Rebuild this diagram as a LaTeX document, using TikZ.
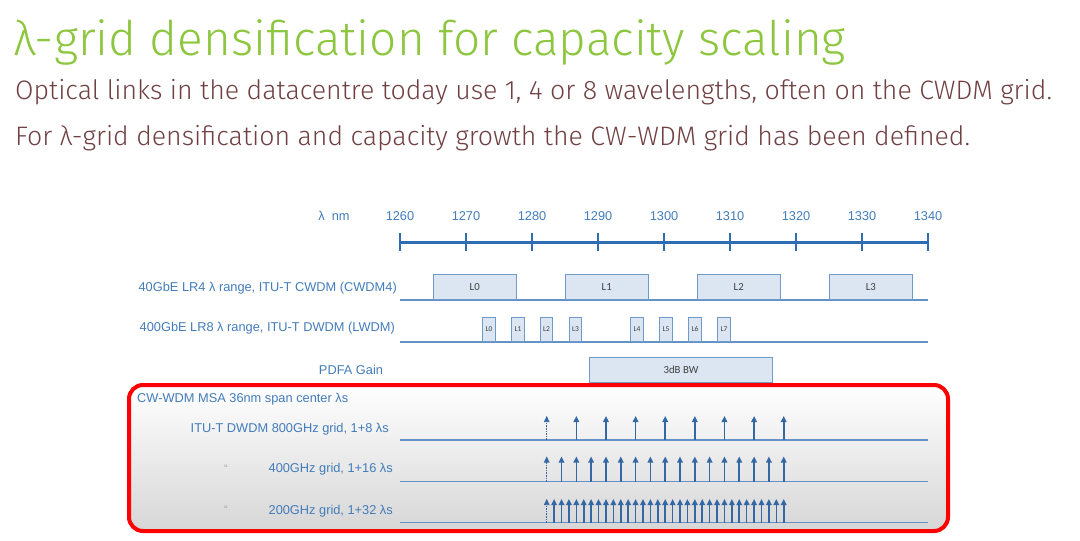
\documentclass[tikz,border=0pt]{standalone}
\usepackage{fontspec}
\setmainfont{Liberation Sans}
\newfontfamily\slidefont{Fira Sans Light}
\newfontfamily\calfont{Carlito}
\usetikzlibrary{arrows.meta}

\definecolor{slidegreen}{RGB}{141,198,63}
\definecolor{slidebrown}{RGB}{112,64,66}
\definecolor{axisblue}{RGB}{46,108,180}
\definecolor{labelblue}{RGB}{66,124,186}
\definecolor{lineblue}{RGB}{98,146,198}
\definecolor{boxfill}{RGB}{220,230,242}
\definecolor{boxline}{RGB}{112,154,202}
\definecolor{arrowblue}{RGB}{52,104,164}
\definecolor{msared}{RGB}{255,0,0}

\tikzset{
    ticklabel/.style={inner sep=0pt, text=labelblue, font=\fontsize{12.8}{14}\selectfont},
    rowlabel/.style={inner sep=0pt, anchor=east, text=labelblue, font=\fontsize{12.8}{15}\selectfont},
    ditto/.style={inner sep=0pt, text=black!35, font=\fontsize{11}{12}\selectfont},
    chanbox/.style={draw=boxline, fill=boxfill, line width=1pt, inner sep=0pt, text=black!75, font=\calfont\fontsize{10.8}{12}\selectfont},
    smallbox/.style={chanbox, minimum width=12.3pt, minimum height=24.5pt, font=\calfont\fontsize{7.5}{9}\selectfont},
    rowline/.style={draw=lineblue, line width=1.3pt},
    lambda/.style={draw=arrowblue, line width=1.6pt, -{Triangle[width=5.5pt,length=6pt]}},
}

\begin{document}
\begin{tikzpicture}[x=1pt, y=-1pt]
    \useasboundingbox (0,0) rectangle (1080,541);

    \def \xstart {400}
    \def \xend {928}
    \def \tenstep {66}
    \def \gridbase {{440,481.7,522.7}}
    \def \gridtop {{416,456.5,499}}
    \def \gridcount {{8,16,32}}

    \node[inner sep=0pt, anchor=base west, text=slidegreen, font=\slidefont\fontsize{47.7}{52}\selectfont] (title) at (13,55) {λ-grid densification for capacity scaling};
    \node[inner sep=0pt, anchor=base west, text=slidebrown, font=\slidefont\fontsize{26.7}{30}\selectfont] (line1) at (15,99) {Optical links in the datacentre today use 1, 4 or 8 wavelengths, often on the CWDM grid.};
    \node[inner sep=0pt, anchor=base west, text=slidebrown, font=\slidefont\fontsize{26.7}{30}\selectfont] (line2) at (15,145) {For λ-grid densification and capacity growth the CW-WDM grid has been defined.};

    % wavelength axis
    \node[ticklabel] (unit) at (334,216) {λ\ \ nm};
    \draw[axisblue, line width=3pt] (\xstart,242) -- (\xend,242);
    \foreach \s in {0,...,8}{
        \pgfmathsetmacro{\x}{\xstart + \tenstep*\s}
        \pgfmathtruncatemacro{\nm}{1260 + 10*\s}
        \draw[axisblue, line width=2.5pt] (\x,233) -- (\x,251);
        \node[ticklabel] (tick\s) at (\x,216) {\nm};
    };

    \node[rowlabel] (cwdmlabel) at (397,288) {40GbE LR4 λ range, ITU-T CWDM (CWDM4)};
    \draw[rowline] (\xstart,300) -- (\xend,300);
    \foreach \s in {0,...,3}{
        \pgfmathsetmacro{\x}{433 + 2*\tenstep*\s}
        \node[chanbox, minimum width=82.5pt, minimum height=25pt, anchor=south west] (cw\s) at (\x,300) {L\s};
    };

    \node[rowlabel] (lwdmlabel) at (395,328) {400GbE LR8 λ range, ITU-T DWDM (LWDM)};
    \draw[rowline] (\xstart,342) -- (\xend,342);
    \foreach \x [count=\s from 0] in {489,518,546.5,575.5,637,666,695,724}{
        \node[smallbox, anchor=south] (lw\s) at (\x,342) {L\s};
    };

    \node[rowlabel, anchor=center] (gainlabel) at (351,370) {PDFA Gain};
    \node[chanbox, minimum width=183pt, minimum height=25pt, anchor=north west] (gain) at (589,357) {3dB BW};

    \draw[msared, line width=4pt, rounded corners=14pt, top color=white, bottom color=black!16] (129,385) rectangle (948,531);

    \node[rowlabel, anchor=west] (msalabel) at (137,399) {CW-WDM MSA 36nm span center λs};
    \node[rowlabel] (g800label) at (389,429) {ITU-T DWDM 800GHz grid, 1+8 λs};
    \node[rowlabel] (g400label) at (393,469) {400GHz grid, 1+16 λs};
    \node[rowlabel] (g200label) at (393,511) {200GHz grid, 1+32 λs};
    \node[ditto] (ditto400) at (226,469) {“};
    \node[ditto] (ditto200) at (226,510) {“};

    \foreach \r in {0,1,2}{
        \pgfmathsetmacro{\ybase}{\gridbase[\r]}
        \pgfmathsetmacro{\ytop}{\gridtop[\r]}
        \pgfmathtruncatemacro{\n}{\gridcount[\r]}
        \draw[rowline] (\xstart,\ybase) -- (\xend,\ybase);
        \draw[lambda, densely dotted, line width=0.7pt] (546.7,\ybase) -- (546.7,\ytop);
        \foreach \k in {1,...,\n}{
            \pgfmathsetmacro{\x}{546.7 + 237*\k/\n}
            \draw[lambda] (\x,\ybase) -- (\x,\ytop);
        };
    };

\end{tikzpicture}
\end{document}
